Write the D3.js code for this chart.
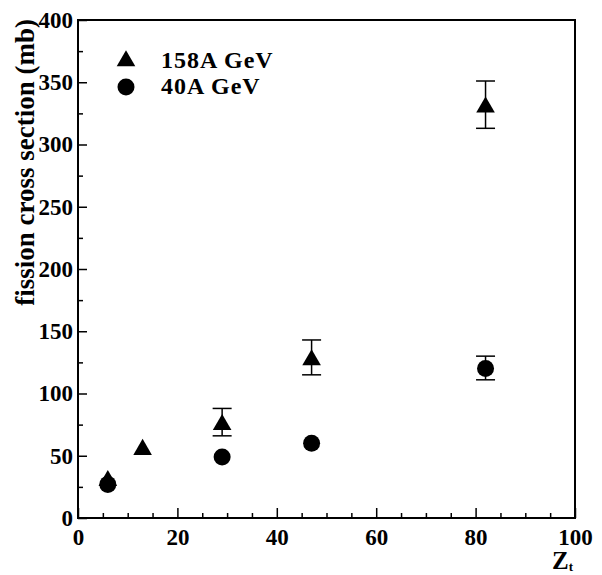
<!DOCTYPE html>
<html>
<head>
<meta charset="utf-8">
<script src="https://cdn.jsdelivr.net/npm/d3@7"></script>
<style>
  body { margin: 0; background: #fff; }
  svg { display: block; }
  text { font-family: "Liberation Serif", "DejaVu Serif", serif; font-weight: bold; fill: #000; }
</style>
</head>
<body>
<svg width="602" height="575"></svg>
<script>
// 158A GeV series (triangles)
const zt158 = [6, 13, 29, 47, 82];
const sigma158 = [30, 55, 75, 127, 330];
const errLo158 = [0, 0, 9, 12, 17];
const errHi158 = [0, 0, 13, 16, 21];

// 40A GeV series (circles)
const zt40 = [6, 29, 47, 82];
const sigma40 = [27, 49, 60, 120];
const errLo40 = [0, 0, 0, 9];
const errHi40 = [0, 0, 0, 10];

const xTicks = [0, 20, 40, 60, 80, 100];
const yTicks = [0, 50, 100, 150, 200, 250, 300, 350, 400];
const legendLabels = ["158A GeV", "40A GeV"];

const svg = d3.select("svg");
const margin = { left: 78, right: 27, top: 20, bottom: 57 };
const width = 602, height = 575;

const x = d3.scaleLinear().domain([0, 100]).range([margin.left, width - margin.right]);
const y = d3.scaleLinear().domain([0, 400]).range([height - margin.bottom, margin.top]);

// frame
svg.append("rect")
  .attr("x", x(0)).attr("y", y(400))
  .attr("width", x(100) - x(0)).attr("height", y(0) - y(400))
  .attr("fill", "none").attr("stroke", "#000").attr("stroke-width", 2);

// x axis: major ticks every 20, minor every 5, pointing inward
const xAxis = d3.axisBottom(x).tickValues(xTicks).tickSize(-10).tickPadding(11).tickFormat(d3.format("d"));
const gx = svg.append("g").attr("transform", `translate(0,${y(0)})`).call(xAxis);
gx.select(".domain").remove();
gx.selectAll(".tick line").attr("stroke-width", 1.5);
gx.selectAll(".tick text").attr("font-size", 23);
svg.append("g").attr("transform", `translate(0,${y(0)})`)
  .call(d3.axisBottom(x).tickValues(d3.range(5, 100, 5).filter(d => d % 20)).tickSize(-5).tickFormat(""))
  .call(g => g.select(".domain").remove())
  .selectAll(".tick line").attr("stroke-width", 1.5);

// y axis: major every 50, minor every 25
const yAxis = d3.axisLeft(y).tickValues(yTicks).tickSize(-9).tickPadding(5).tickFormat(d3.format("d"));
const gy = svg.append("g").attr("transform", `translate(${x(0)},0)`).call(yAxis);
gy.select(".domain").remove();
gy.selectAll(".tick line").attr("stroke-width", 1.5);
gy.selectAll(".tick text").attr("font-size", 23);
svg.append("g").attr("transform", `translate(${x(0)},0)`)
  .call(d3.axisLeft(y).tickValues(d3.range(25, 400, 50)).tickSize(-5).tickFormat(""))
  .call(g => g.select(".domain").remove())
  .selectAll(".tick line").attr("stroke-width", 1.5);

// axis titles
svg.append("text")
  .attr("transform", `translate(34,19) rotate(-90)`)
  .attr("text-anchor", "end")
  .attr("font-size", 27)
  .text("fission cross section (mb)");

const zt = svg.append("text").attr("x", 552).attr("y", 569).attr("font-size", 25);
zt.append("tspan").text("Z");
zt.append("tspan").attr("font-size", 13).attr("dy", 2).text("t");

// error bars
function errorBars(xs, ys, lo, hi) {
  const g = svg.append("g").attr("stroke", "#000").attr("stroke-width", 1.5);
  xs.forEach((d, i) => {
    if (!lo[i] && !hi[i]) return;
    const cx = x(d), top = y(ys[i] + hi[i]), bot = y(ys[i] - lo[i]);
    g.append("line").attr("x1", cx).attr("x2", cx).attr("y1", top).attr("y2", bot);
    g.append("line").attr("x1", cx - 9.5).attr("x2", cx + 9.5).attr("y1", top).attr("y2", top);
    g.append("line").attr("x1", cx - 9.5).attr("x2", cx + 9.5).attr("y1", bot).attr("y2", bot);
  });
}
errorBars(zt158, sigma158, errLo158, errHi158);
errorBars(zt40, sigma40, errLo40, errHi40);

const tri = d3.symbol().type(d3.symbolTriangle).size(150);

svg.append("g").selectAll("path")
  .data(zt158.map((d, i) => [d, sigma158[i]]))
  .join("path")
  .attr("d", tri)
  .attr("transform", d => `translate(${x(d[0])},${y(d[1])})`)
  .attr("fill", "#000");

svg.append("g").selectAll("circle")
  .data(zt40.map((d, i) => [d, sigma40[i]]))
  .join("circle")
  .attr("cx", d => x(d[0])).attr("cy", d => y(d[1]))
  .attr("r", 8.5).attr("fill", "#000");

// legend
const legend = svg.append("g");
legend.append("path").attr("d", tri).attr("transform", "translate(126,61)").attr("fill", "#000");
legend.append("circle").attr("cx", 126).attr("cy", 87).attr("r", 8.5).attr("fill", "#000");
legend.selectAll("text")
  .data(legendLabels)
  .join("text")
  .attr("x", 161)
  .attr("y", (d, i) => 68 + i * 26)
  .attr("font-size", 24)
  .attr("letter-spacing", 1)
  .text(d => d);
</script>
</body>
</html>
